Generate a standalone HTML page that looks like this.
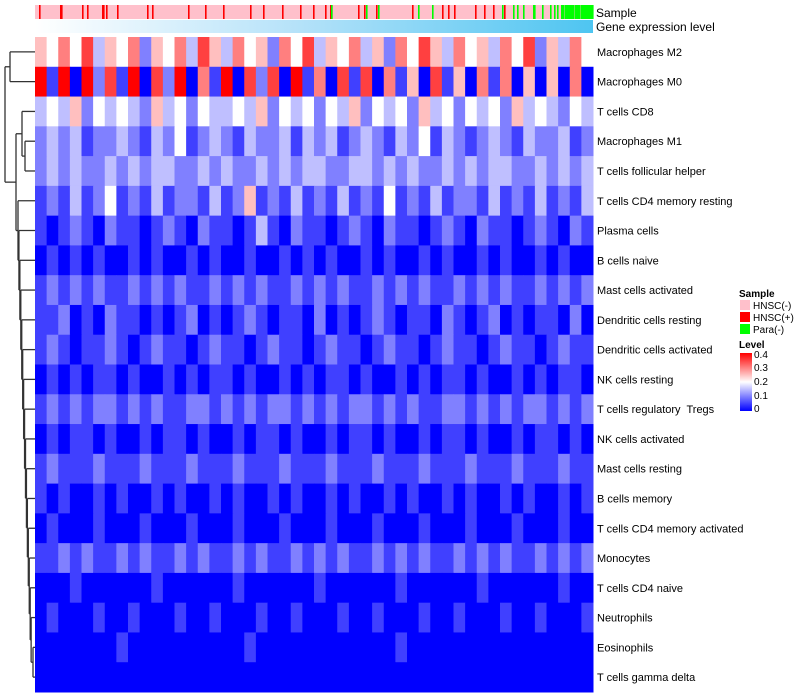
<!DOCTYPE html>
<html><head><meta charset="utf-8"><style>
html,body{margin:0;padding:0;background:#fff;}
svg{display:block;font-family:"Liberation Sans",sans-serif;}
text{white-space:pre;}
</style></head><body>
<svg id="chart" width="800" height="700" xmlns="http://www.w3.org/2000/svg">
<defs>
<linearGradient id="geneGrad" x1="0" x2="1" y1="0" y2="0"><stop offset="0" stop-color="#ffffff"/><stop offset="0.47" stop-color="#b5e2f9"/><stop offset="1" stop-color="#4ec5f1"/></linearGradient>
<linearGradient id="levelGrad" x1="0" x2="0" y1="1" y2="0"><stop offset="0" stop-color="#0000ff"/><stop offset="0.5" stop-color="#ffffff"/><stop offset="1" stop-color="#ff0000"/></linearGradient>
</defs>
<g id="samplebar"></g>
<rect x="35" y="20" width="558" height="13" fill="url(#geneGrad)"/>
<text x="596" y="17" font-size="12">Sample</text>
<text x="596" y="31" font-size="12">Gene expression level</text>
<g id="cells"></g>
<g id="labels"></g>
<g id="dendro" stroke="#333" stroke-width="1.3" fill="none"></g>
<g font-size="10">
<text x="739" y="297" font-weight="bold">Sample</text>
<rect x="740" y="300" width="10" height="10" fill="#ffc0cb"/>
<text x="753" y="309">HNSC(-)</text>
<rect x="740" y="312" width="10" height="10" fill="#ff0000"/>
<text x="753" y="321">HNSC(+)</text>
<rect x="740" y="324" width="10" height="10" fill="#00ff00"/>
<text x="753" y="333">Para(-)</text>
<text x="739" y="348" font-weight="bold">Level</text>
<rect x="740" y="353" width="12" height="58" fill="url(#levelGrad)"/>
<text x="754" y="358">0.4</text>
<text x="754" y="371">0.3</text>
<text x="754" y="385">0.2</text>
<text x="754" y="399">0.1</text>
<text x="754" y="412">0</text>
</g>
</svg>
<script>
const rowNames = ["Macrophages M2","Macrophages M0","T cells CD8","Macrophages M1","T cells follicular helper","T cells CD4 memory resting","Plasma cells","B cells naive","Mast cells activated","Dendritic cells resting","Dendritic cells activated","NK cells resting","T cells regulatory  Tregs","NK cells activated","Mast cells resting","B cells memory","T cells CD4 memory activated","Monocytes","T cells CD4 naive","Neutrophils","Eosinophils","T cells gamma delta"];
// each digit d = level d*0.05
const rowLevels = [
"546473546254637536452647354635264753645364725364",
"818082718072806180727081607170615071506160505060",
"343524343253424334352434243524342534243425343243",
"232312232132412321322313231232132413212321322312",
"232322323233223232232323322332323223232332232323",
"121312412131221312512131213121412131221312131213",
"101210211012102110131021101210211012102110121021",
"010101001010010100100101010010100101001010010100",
"121212112121211212121121212112121211212121121212",
"112010211010120101210110201012101102101201011020",
"121011210121101211012110121101211012110121101211",
"010101101001010110100101011010010101101001010110",
"121212212121122121212212121221212112212121221212",
"010110100101101001011010010110100101101001011010",
"121112111211121112111211121112111211121112111211",
"101001010010100101001010010100101001010010100101",
"010001000100010001000100010001000100010001000100",
"112121121211212112121121212112121211212121121212",
"000100000010000001000000100000010000001000000100",
"010001001000100100010010001001000100100010010001",
"000000010000000000100000000000010000000000000000",
"000000000000000000000000000000000000000000000000"];
// sample annotation: positions (pixel column index from left of heatmap, 0..557)
const redSamples = [4,25,26,47,52,67,68,71,82,112,117,153,170,188,215,228,247,265,278,290,295,296,323,329,341,377,407,413,419,440,449,458,469];
const greenSamples = [296,331,343,383,397,467,478,482,488,498,499,507,515,519,522,526,527,528,530,531,532,533,534,535,536,537,538,540,541,542,543,544,546,547,548,549,550,551,552,553,554,555,556,557];

const X0=35, W=558, Y0=37, H=655, NS=558;
const rowH = H/rowNames.length;
const ns="http://www.w3.org/2000/svg";
function xs(i,n){return X0+W*i/n;}
function yc(i){return Y0+rowH*(i+0.5);}
function color(v){
  const t=Math.max(0,Math.min(1,v/0.4));
  let r,g,b;
  if(t<0.5){const u=t/0.5;r=Math.round(255*u);g=r;b=255;}
  else{const u=(t-0.5)/0.5;r=255;g=Math.round(255*(1-u));b=g;}
  return `rgb(${r},${g},${b})`;
}
function mk(tag,attrs,parent){const e=document.createElementNS(ns,tag);for(const k in attrs)e.setAttribute(k,attrs[k]);parent.appendChild(e);return e;}

const sb=document.getElementById('samplebar');
const bg=mk('rect',{x:X0,y:5,width:W,height:14,fill:'#ffc0cb'},sb);


redSamples.forEach(p=>{const r=mk('rect',{x:xs(p,NS),y:5,width:1.6,height:14,fill:'#ff0000'},sb);

});
greenSamples.forEach(p=>{const r=mk('rect',{x:xs(p,NS),y:5,width:1.6,height:14,fill:'#00ff00'},sb);

});

const cg=document.getElementById('cells');
rowLevels.forEach((s,ri)=>{
  const n=s.length;
  for(let c=0;c<n;c++){
    const v=parseInt(s[c])*0.05;
    const r=mk('rect',{x:xs(c,n),y:Y0+rowH*ri,width:W/n+0.5,height:rowH+0.5,fill:color(v)},cg);
    
    
  }
});
const lg=document.getElementById('labels');
rowNames.forEach((nm,i)=>{
  const t=mk('text',{x:597,y:yc(i)+4,'font-size':11},lg);
  t.textContent=nm;
  
  
});
// dendrogram
const dg=document.getElementById('dendro');
function line(x1,y1,x2,y2){const l=mk('line',{x1,y1,x2,y2},dg);

}
const nodeY={},nodeX={};
const last=rowNames.length-1;
nodeY[last-1]=(yc(last-1)+yc(last))/2; nodeX[last-1]=33;
line(33,yc(last-1),33,yc(last)); line(33,yc(last-1),X0,yc(last-1)); line(33,yc(last),X0,yc(last));
for(let k=last-2;k>=5;k--){
  const x=18+(k-5)*(15/(last-5));
  nodeX[k]=x; nodeY[k]=(yc(k)+nodeY[k+1])/2;
  line(x,yc(k),x,nodeY[k+1]); line(x,yc(k),X0,yc(k)); line(x,nodeY[k+1],nodeX[k+1],nodeY[k+1]);
}
const yA=(yc(3)+yc(4))/2; line(25,yc(3),25,yc(4)); line(25,yc(3),X0,yc(3)); line(25,yc(4),X0,yc(4));
const yB=(yc(2)+yA)/2; line(22,yc(2),22,yA); line(22,yc(2),X0,yc(2)); line(22,yA,25,yA);
const yC=(yB+nodeY[5])/2; line(16,yB,16,nodeY[5]); line(16,yB,22,yB); line(16,nodeY[5],nodeX[5],nodeY[5]);
const yM=(yc(0)+yc(1))/2; line(10,yc(0),10,yc(1)); line(10,yc(0),X0,yc(0)); line(10,yc(1),X0,yc(1));
line(5,yM,5,yC); line(5,yM,10,yM); line(5,yC,16,yC);
</script>
</body></html>
